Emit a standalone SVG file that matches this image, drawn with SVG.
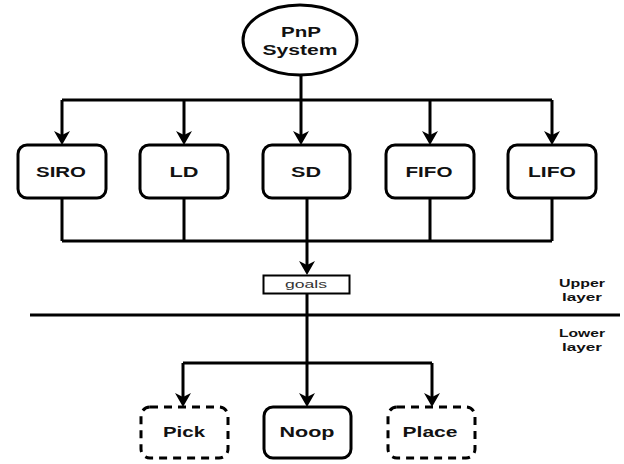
<svg xmlns="http://www.w3.org/2000/svg" width="624" height="464" viewBox="0 0 624 464">
  <style>
    .edge { fill: none; stroke: #000; stroke-width: 3; }
    .node { fill: #fff; stroke: #000; stroke-width: 3; }
    .dash { stroke-dasharray: 8 6; }
    .lbl { font-family: "Liberation Sans", Arial, sans-serif; font-weight: bold; font-size: 14px; fill: #111; text-anchor: middle; }
    .side { font-family: "Liberation Sans", Arial, sans-serif; font-weight: bold; font-size: 11px; fill: #111; text-anchor: middle; }
    .small { font-family: "Liberation Sans", Arial, sans-serif; font-size: 11px; fill: #333; text-anchor: middle; }
  </style>
  <defs>
    <marker id="arrow" markerUnits="userSpaceOnUse" markerWidth="16" markerHeight="16" refX="8" refY="8" orient="auto">
      <path d="M0,0 L14,8 L0,16 L4,8 z" fill="#000"/>
    </marker>
  </defs>
  <rect width="624" height="464" fill="#fff"/>

  <!-- connectors -->
  <g id="connectors">
    <!-- root to the five policies -->
    <path class="edge" d="M301,75 V100 M62,100 H552"/>
    <line class="edge" x1="62" y1="100" x2="62" y2="139" marker-end="url(#arrow)"/>
    <line class="edge" x1="184" y1="100" x2="184" y2="139" marker-end="url(#arrow)"/>
    <line class="edge" x1="301" y1="100" x2="301" y2="139" marker-end="url(#arrow)"/>
    <line class="edge" x1="430" y1="100" x2="430" y2="139" marker-end="url(#arrow)"/>
    <line class="edge" x1="552" y1="100" x2="552" y2="139" marker-end="url(#arrow)"/>
    <!-- policies merge into goals -->
    <path class="edge" d="M62,198 V241 M184,198 V241 M430,198 V241 M552,198 V241 M62,241 H552"/>
    <line class="edge" x1="307" y1="198" x2="307" y2="269" marker-end="url(#arrow)"/>
    <!-- goals to the actions -->
    <path class="edge" d="M307,294 V363 M183,363 H432"/>
    <line class="edge" x1="183" y1="363" x2="183" y2="401" marker-end="url(#arrow)"/>
    <line class="edge" x1="307" y1="363" x2="307" y2="401" marker-end="url(#arrow)"/>
    <line class="edge" x1="432" y1="363" x2="432" y2="401" marker-end="url(#arrow)"/>
  </g>

  <!-- layer divider -->
  <g id="divider">
    <line class="edge" x1="30" y1="315" x2="620" y2="315"/>
    <text class="side" x="582" y="287" textLength="46" lengthAdjust="spacingAndGlyphs">Upper</text>
    <text class="side" x="582" y="301" textLength="40" lengthAdjust="spacingAndGlyphs">layer</text>
    <text class="side" x="582" y="337" textLength="46" lengthAdjust="spacingAndGlyphs">Lower</text>
    <text class="side" x="582" y="351" textLength="40" lengthAdjust="spacingAndGlyphs">layer</text>
  </g>

  <g id="pnp-system">
    <ellipse class="node" cx="300" cy="40" rx="57" ry="35"/>
    <text class="lbl" x="301" y="37" textLength="40" lengthAdjust="spacingAndGlyphs">PnP</text>
    <text class="lbl" x="300" y="55" textLength="75" lengthAdjust="spacingAndGlyphs">System</text>
  </g>

  <g id="siro">
    <rect class="node" x="18" y="145" width="88" height="53" rx="9"/>
    <text class="lbl" x="61" y="177" textLength="50" lengthAdjust="spacingAndGlyphs">SIRO</text>
  </g>
  <g id="ld">
    <rect class="node" x="140" y="145" width="88" height="53" rx="9"/>
    <text class="lbl" x="184" y="177" textLength="29" lengthAdjust="spacingAndGlyphs">LD</text>
  </g>
  <g id="sd">
    <rect class="node" x="263" y="145" width="87" height="53" rx="9"/>
    <text class="lbl" x="306" y="177" textLength="30" lengthAdjust="spacingAndGlyphs">SD</text>
  </g>
  <g id="fifo">
    <rect class="node" x="386" y="145" width="88" height="53" rx="9"/>
    <text class="lbl" x="429" y="177" textLength="47" lengthAdjust="spacingAndGlyphs">FIFO</text>
  </g>
  <g id="lifo">
    <rect class="node" x="508" y="145" width="88" height="53" rx="9"/>
    <text class="lbl" x="552" y="177" textLength="48" lengthAdjust="spacingAndGlyphs">LIFO</text>
  </g>

  <g id="goals">
    <rect x="263.5" y="275.5" width="86" height="18" fill="#fff" stroke="#000" stroke-width="2"/>
    <text class="small" x="306" y="288" textLength="42" lengthAdjust="spacingAndGlyphs">goals</text>
  </g>

  <g id="pick">
    <rect class="node dash" x="141" y="407" width="87" height="51" rx="9"/>
    <text class="lbl" x="184" y="437" textLength="42" lengthAdjust="spacingAndGlyphs">Pick</text>
  </g>
  <g id="noop">
    <rect class="node" x="264" y="407" width="87" height="51" rx="9"/>
    <text class="lbl" x="307" y="437" textLength="55" lengthAdjust="spacingAndGlyphs">Noop</text>
  </g>
  <g id="place">
    <rect class="node dash" x="388" y="407" width="87" height="51" rx="9"/>
    <text class="lbl" x="430" y="437" textLength="55" lengthAdjust="spacingAndGlyphs">Place</text>
  </g>
</svg>
